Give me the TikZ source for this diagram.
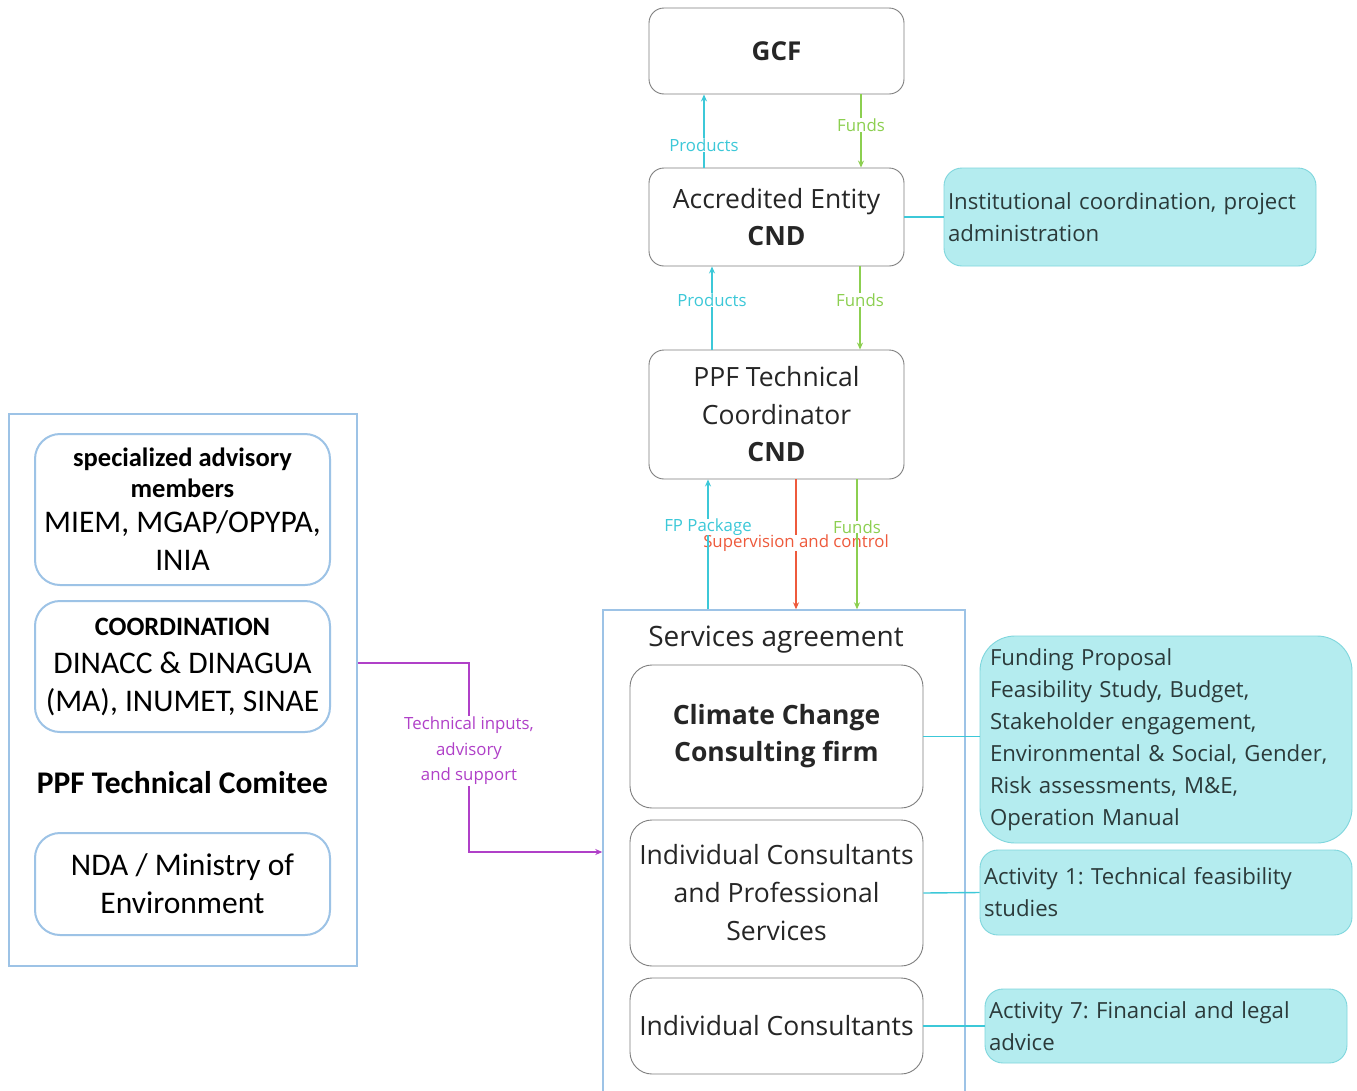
\documentclass[tikz,border=0pt]{standalone}
\usepackage{fontspec}
\setmainfont{Open Sans}
\newfontfamily\calib{Carlito}
\usetikzlibrary{arrows.meta,calc}
\frenchspacing
\definecolor{cyanln}{HTML}{3CC8D8}
\definecolor{greenln}{HTML}{8CCF50}
\definecolor{redln}{HTML}{EE5A3C}
\definecolor{magln}{HTML}{B040C8}
\definecolor{boxfill}{HTML}{B4ECEF}
\definecolor{boxedge}{HTML}{7FD6DD}
\definecolor{leftedge}{HTML}{9DC3E6}
\definecolor{grayedge}{HTML}{7F7F7F}
\definecolor{txt}{HTML}{262626}
\definecolor{ctxt}{HTML}{2B3A3A}
\newcommand\myLB{\calib\bfseries\fontsize{26.5}{31}\selectfont}
\newcommand\myLR{\calib\mdseries\fontsize{31.5}{38}\selectfont}
\tikzset{
  wbox/.style={draw=grayedge, line width=0.9pt, rounded corners=15pt, fill=white,
    align=center, inner sep=0pt, text=txt, minimum width=255pt,
    font=\fontsize{26.5}{37.5}\selectfont},
  ibox/.style={draw=grayedge, line width=0.9pt, rounded corners=22pt, fill=white,
    align=center, inner sep=0pt, text=txt, minimum width=293pt,
    font=\fontsize{26.5}{38}\selectfont},
  cbox/.style={draw=boxedge, line width=0.9pt, fill=boxfill, align=left,
    inner ysep=0pt, text=ctxt, font=\frenchspacing\fontsize{22.2}{32}\selectfont},
  lbox/.style={draw=leftedge, line width=2pt, rounded corners=25pt, fill=white,
    align=center, inner sep=0pt, minimum width=295pt, text=black},
  flow/.style={line width=1.4pt, -{Stealth[length=7pt,width=6pt]}},
  lab/.style={fill=white, inner sep=1pt, font=\fontsize{16.8}{18}\selectfont},
  link/.style={draw=cyanln, line width=1.4pt},
}
\begin{document}
\begin{tikzpicture}[x=1pt,y=-1pt]
\useasboundingbox (0,0) rectangle (1357,1090);
\fill[white] (0,0) rectangle (1357,1090);

% ---------- centre column ----------
\node[wbox, minimum height=86pt, font=\bfseries\fontsize{26}{30}\selectfont] (gcf) at (776.5,51) {GCF};
\node[wbox, minimum height=98pt] (ae) at (776.5,217)
  {Accredited Entity\\\bfseries CND};
\node[wbox, minimum height=129pt] (ppf) at (776.5,414.5)
  {PPF Technical\\Coordinator\\\bfseries CND};

\node[cbox, rounded corners=18pt, text width=364pt, inner xsep=4pt, minimum height=98pt] (inst) at (1130,217)
  {Institutional coordination, project\\administration};

% services agreement container
\node[draw=leftedge, line width=1.4pt, minimum width=362pt, minimum height=500pt, inner sep=0pt] (svc) at (784,860) {};
\node[font=\fontsize{28}{30}\selectfont, text=txt] (svct) at (776,640) {Services agreement};

\node[ibox, minimum height=143pt, font=\bfseries\fontsize{26.5}{37}\selectfont] (ccc) at (776.5,736.5)
  {Climate Change\\Consulting firm};
\node[ibox, minimum height=146pt] (icps) at (776.5,893)
  {Individual Consultants\\and Professional\\Services};
\node[ibox, minimum height=96pt] (ic) at (776.5,1026)
  {Individual Consultants};

% cyan output boxes
\node[cbox, rounded corners=35pt, text width=352pt, inner xsep=10pt, minimum height=207pt] (fp) at (1166,739.5)
  {Funding Proposal\\Feasibility Study, Budget,\\Stakeholder engagement,\\Environmental \& Social, Gender,\\Risk assessments, M\&E,\\Operation Manual};
\node[cbox, rounded corners=18pt, text width=364pt, inner xsep=4pt, minimum height=85pt] (a1) at (1166,892.5)
  {Activity 1: Technical feasibility\\studies};
\node[cbox, rounded corners=18pt, text width=354pt, inner xsep=4pt, minimum height=74pt] (a7) at (1166,1026)
  {Activity 7: Financial and legal\\advice};

% ---------- left panel ----------
\node[draw=leftedge, line width=2pt, minimum width=348pt, minimum height=552pt, inner sep=0pt] (lp) at (183,690) {};
\node[lbox, minimum height=151pt, font=\myLB] (spec) at (182.5,509.5)
  {\myLB specialized advisory\\\myLB members\\[4pt]\myLR MIEM, MGAP/OPYPA,\\[7pt]\myLR INIA};
\node[lbox, minimum height=131pt, font=\myLR] (coord) at (182.5,666.5)
  {\myLB COORDINATION\\\myLR DINACC \& DINAGUA\\\myLR (MA), INUMET, SINAE};
\node[font=\calib\bfseries\fontsize{31.5}{36}\selectfont] (ptc) at (182.5,783) {PPF Technical Comitee};
\node[lbox, minimum height=102pt, font=\myLR] (nda) at (182.5,884)
  {NDA / Ministry of\\Environment};

% ---------- flows ----------
\coordinate (xP1) at (704,0);
\coordinate (xF1) at (861,0);
\coordinate (xP2) at (712,0);
\coordinate (xF2) at (860,0);
\coordinate (xFP) at (708,0);
\coordinate (xSC) at (796,0);
\coordinate (xF3) at (857,0);

\draw[flow, cyanln] (xP1 |- ae.north) -- (xP1 |- gcf.south);
\draw[flow, greenln] (xF1 |- gcf.south) -- (xF1 |- ae.north);
\draw[flow, cyanln] (xP2 |- ppf.north) -- (xP2 |- ae.south);
\draw[flow, greenln] (xF2 |- ae.south) -- (xF2 |- ppf.north);
\node[lab, text=cyanln] (lP1) at (704,145) {Products};
\node[lab, text=greenln] (lF1) at (861,125) {Funds};
\node[lab, text=cyanln] (lP2) at (712,300) {Products};
\node[lab, text=greenln] (lF2) at (860,300) {Funds};

\draw[flow, redln] (xSC |- ppf.south) -- (xSC |- svc.north);
\node[lab, text=redln, inner ysep=0pt] (lSC) at (796,543) {Supervision and control};
\draw[flow, cyanln] (xFP |- svc.north) -- (xFP |- ppf.south);
\draw[flow, greenln] (xF3 |- ppf.south) -- (xF3 |- svc.north);
\node[lab, text=cyanln, inner ysep=0pt] (lFP) at (708,527) {FP Package};
\node[lab, text=greenln, inner ysep=0pt] (lF3) at (857,527) {Funds};

% links to cyan boxes
\draw[link] (ae.east) -- (inst.west);
\draw[link] (ccc.east) -- (ccc.east -| fp.west);
\draw[link] (icps.east) -- (a1.west);
\draw[link] (ic.east) -- (a7.west);

% technical inputs
\coordinate (mA) at (469,663);
\coordinate (mB) at (469,852);
\draw[magln, line width=1.4pt, -{Stealth[length=7pt,width=6pt]}]
  (lp.east |- mA) -- (mA) -- (mB) -- (svc.west |- mB);
\node[fill=white, inner sep=1pt, align=center, text=magln, font=\fontsize{16.8}{25.5}\selectfont] (ti) at (469,751)
  {Technical inputs,\\advisory\\and support};
\end{tikzpicture}
\end{document}
